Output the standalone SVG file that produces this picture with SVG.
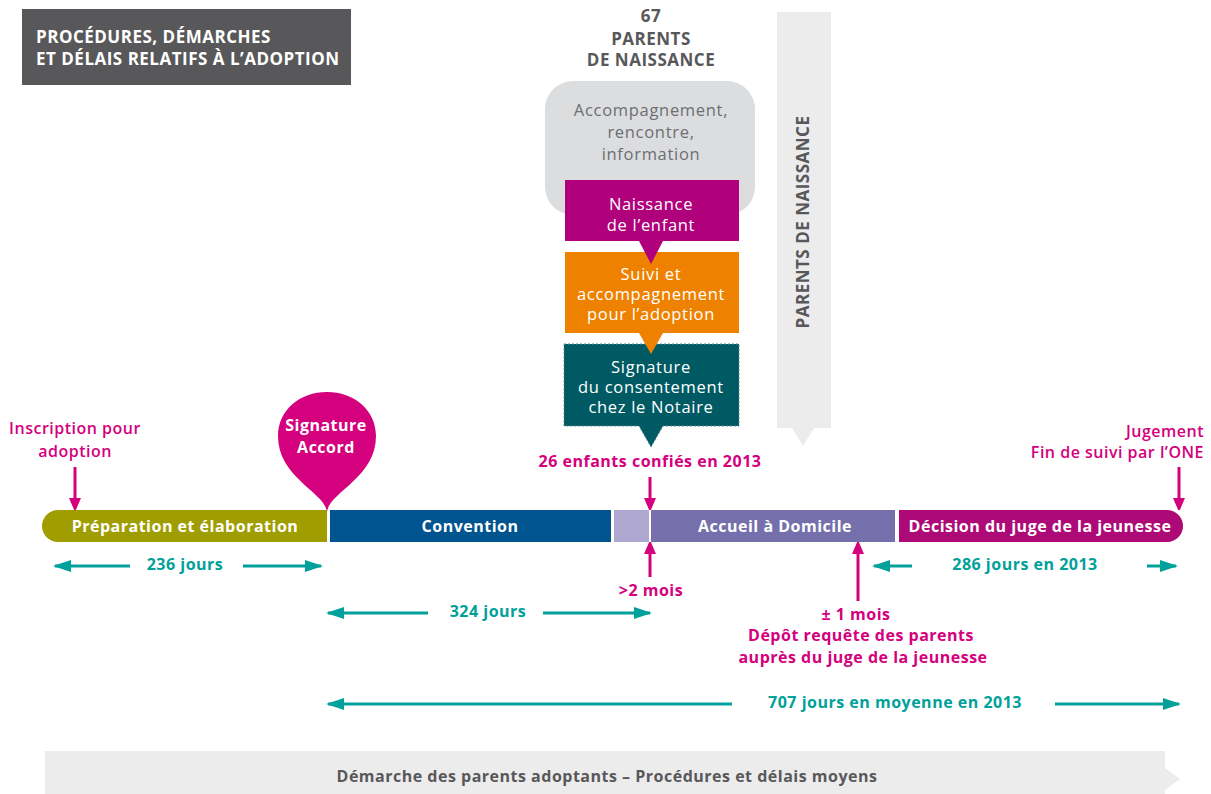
<svg xmlns="http://www.w3.org/2000/svg" width="1211" height="794" viewBox="0 0 1211 794">
<defs>
<style>
text{font-family:"Open Sans","Liberation Sans",sans-serif;letter-spacing:0.5px;}
.t{font-size:16px;font-weight:700;text-anchor:middle;}
.u{font-size:17px;font-weight:700;}
.w{fill:#ffffff;}
.g{fill:#58585a;}
.m{fill:#d4007d;}
.tl{fill:#00a19a;}
.box{font-size:16.5px;font-weight:400;text-anchor:middle;fill:#ffffff;letter-spacing:0.7px;}
.tarr{stroke:#00a19a;stroke-width:3;fill:none;marker-end:url(#ta);}
.marr{stroke:#d4007d;stroke-width:3;fill:none;marker-end:url(#ma);}
</style>
<marker id="ta" viewBox="0 0 18 12" refX="16" refY="6" markerWidth="18" markerHeight="12" markerUnits="userSpaceOnUse" orient="auto"><path d="M0,0 L18,6 L0,12 Z" fill="#00a19a"/></marker>
<marker id="ma" viewBox="0 0 12 16" refX="10" refY="6" markerWidth="12" markerHeight="16" markerUnits="userSpaceOnUse" orient="auto"><path d="M0,0 L14,6 L0,12 Z" fill="#d4007d"/></marker>
</defs>
<rect width="1211" height="794" fill="#ffffff"/>

<g id="title">
<rect x="22" y="9" width="329" height="76" fill="#58585a"/>
<text class="u w" x="36" y="43">PROCÉDURES, DÉMARCHES</text>
<text class="u w" x="36" y="65">ET DÉLAIS RELATIFS À L’ADOPTION</text>
</g>

<g id="parents-header">
<text class="t u g" x="651" y="22" text-anchor="middle" style="text-anchor:middle">67</text>
<text class="t u g" x="651" y="45" style="text-anchor:middle">PARENTS</text>
<text class="t u g" x="651" y="66" style="text-anchor:middle">DE NAISSANCE</text>
</g>

<g id="parents-bar">
<path d="M777,12 H831 V428 H814 L803,446 L792,428 H777 Z" fill="#ececec"/>
<text class="t u g" style="text-anchor:middle" transform="translate(809,222) rotate(-90)">PARENTS DE NAISSANCE</text>
</g>

<g id="accompagnement">
<rect x="545" y="81" width="210" height="134" rx="28" fill="#dcdddf"/>
<text class="box" x="651" y="116" style="fill:#6d6e71">Accompagnement,</text>
<text class="box" x="651" y="138" style="fill:#6d6e71">rencontre,</text>
<text class="box" x="651" y="160" style="fill:#6d6e71">information</text>
</g>

<g id="signature-notaire">
<path d="M564,344 H739 V426 H663 L651,447 L639,426 H564 Z" fill="#005a64" stroke="#4f8d93" stroke-width="1" stroke-dasharray="2 2"/>
<text class="box" x="651" y="373">Signature</text>
<text class="box" x="651" y="393">du consentement</text>
<text class="box" x="651" y="413">chez le Notaire</text>
</g>

<g id="suivi">
<path d="M565,252 H739 V333 H663 L651,354 L639,333 H565 Z" fill="#ee8200"/>
<text class="box" x="651" y="280">Suivi et</text>
<text class="box" x="651" y="300">accompagnement</text>
<text class="box" x="651" y="320">pour l’adoption</text>
</g>

<g id="naissance">
<path d="M565,180 H739 V241 H663 L651,264 L639,241 H565 Z" fill="#b0007b"/>
<text class="box" x="651" y="210">Naissance</text>
<text class="box" x="651" y="231">de l’enfant</text>
</g>

<g id="enfants-confies">
<text class="t m" x="650" y="467">26 enfants confiés en 2013</text>
</g>

<g id="inscription">
<text x="75" y="434" font-size="16" font-weight="600" text-anchor="middle" fill="#d4007d">Inscription pour</text>
<text x="75" y="457" font-size="16" font-weight="600" text-anchor="middle" fill="#d4007d">adoption</text>
</g>

<g id="jugement">
<text x="1204" y="437" font-size="16" font-weight="600" text-anchor="end" fill="#d4007d">Jugement</text>
<text x="1204" y="458" font-size="16" font-weight="600" text-anchor="end" fill="#d4007d">Fin de suivi par l’ONE</text>
</g>

<g id="preparation">
<path d="M58,510 H327 V542 H58 A16,16 0 0 1 58,510 Z" fill="#a09d00"/>
<text class="t w" x="185" y="532">Préparation et élaboration</text>
</g>

<g id="signature-accord">
<path d="M327,512 C325,492 278,478 278,436 C278,410 300,392 327,392 C354,392 376,410 376,436 C376,478 329,492 327,512 Z" fill="#d4007d"/>
<text class="t w" x="326" y="431">Signature</text>
<text class="t w" x="326" y="453">Accord</text>
</g>

<g id="convention">
<rect x="330" y="510" width="281" height="32" fill="#00548f"/>
<text class="t w" x="470" y="532">Convention</text>
</g>

<g id="transition">
<rect x="614" y="510" width="35" height="32" fill="#aea7cf"/>
</g>

<g id="accueil">
<rect x="651" y="510" width="244" height="32" fill="#7570ac"/>
<text class="t w" x="775" y="532">Accueil à Domicile</text>
</g>

<g id="decision">
<path d="M899,510 H1167 A16,16 0 0 1 1167,542 H899 Z" fill="#ad0a78"/>
<text class="t w" x="1040" y="532">Décision du juge de la jeunesse</text>
</g>

<g id="labels">
<text class="t tl" x="185" y="570">236 jours</text>
<text class="t tl" x="488" y="617">324 jours</text>
<text class="t tl" x="1025" y="570">286 jours en 2013</text>
<text class="t tl" x="895" y="708">707 jours en moyenne en 2013</text>
<text class="t m" x="651" y="596">&gt;2 mois</text>
<text class="t m" x="856" y="620">± 1 mois</text>
<text class="t m" x="861" y="641">Dépôt requête des parents</text>
<text class="t m" x="863" y="663">auprès du juge de la jeunesse</text>
</g>

<g id="connectors">
<line class="marr" x1="75" y1="467" x2="75" y2="508"/>
<line class="marr" x1="1179" y1="467" x2="1179" y2="508"/>
<line class="marr" x1="650" y1="477" x2="650" y2="508"/>
<line class="marr" x1="650" y1="577" x2="650" y2="544"/>
<line class="marr" x1="858" y1="601" x2="858" y2="544"/>
<line class="tarr" x1="130" y1="566" x2="55" y2="566"/>
<line class="tarr" x1="243" y1="566" x2="321" y2="566"/>
<line class="tarr" x1="428" y1="613" x2="328" y2="613"/>
<line class="tarr" x1="543" y1="613" x2="650" y2="613"/>
<line class="tarr" x1="912" y1="566" x2="874" y2="566"/>
<line class="tarr" x1="1147" y1="566" x2="1176" y2="566"/>
<line class="tarr" x1="732" y1="704" x2="328" y2="704"/>
<line class="tarr" x1="1055" y1="704" x2="1179" y2="704"/>
</g>

<g id="footer">
<path d="M45,751 H1165 V768 L1180,779 L1165,790 V794 H45 Z" fill="#ececec"/>
<text class="t g" x="607" y="782">Démarche des parents adoptants – Procédures et délais moyens</text>
</g>
</svg>
